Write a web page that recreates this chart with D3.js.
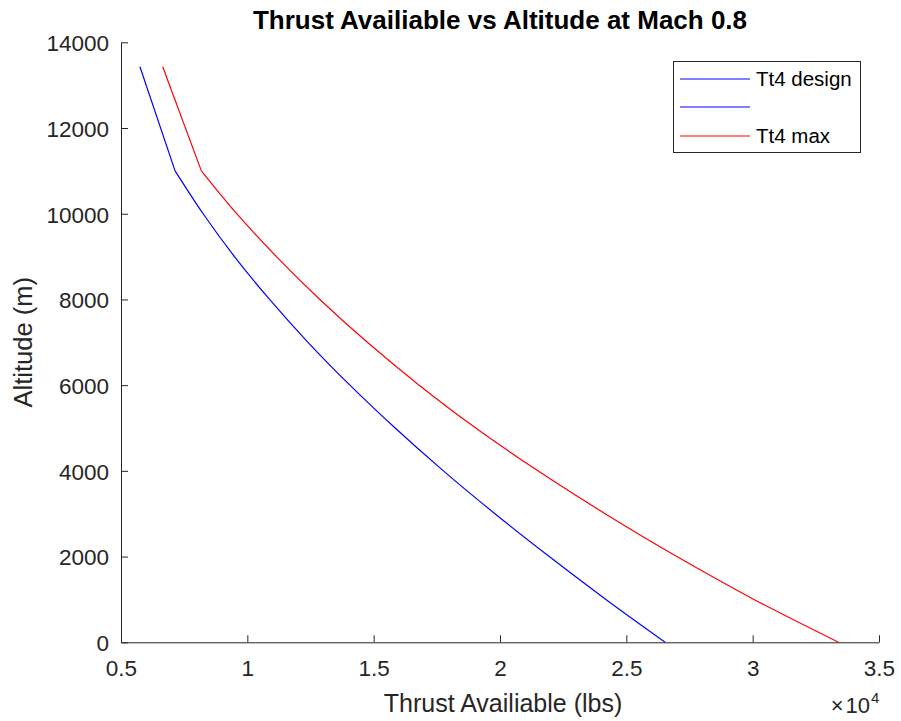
<!DOCTYPE html>
<html>
<head>
<meta charset="utf-8">
<script src="https://cdn.jsdelivr.net/npm/d3@7"></script>
<style>
  html, body { margin: 0; padding: 0; background: #ffffff; }
  svg { display: block; font-family: "Liberation Sans", Arial, Helvetica, sans-serif; }
</style>
</head>
<body>
<svg id="chart" width="901" height="721"></svg>
<script>
// ---- data ----
// troposphere part (0 - 11000 m)
const altitudesLow = [0, 1000, 2000, 3000, 4000, 5000, 6000, 7000, 8000, 9000, 10000, 11000];
const thrustDesignLow = [26540, 24190, 21950, 19800, 17760, 15850, 14060, 12400, 10880, 9490, 8250, 7140];
const thrustMaxLow    = [33400, 30050, 27000, 24160, 21500, 19040, 16800, 14750, 12870, 11150, 9580, 8180];
// stratosphere part (11000 m - top)
const altitudesHigh = [11000, 13430];
const thrustDesignHigh = [7140, 5750];
const thrustMaxHigh    = [8180, 6650];

const legendLabels = ["Tt4 design", "", "Tt4 max"];
const xTickValues = [5000, 10000, 15000, 20000, 25000, 30000, 35000];
const yTickValues = [0, 2000, 4000, 6000, 8000, 10000, 12000, 14000];
const titleText = "Thrust Availiable vs Altitude at Mach 0.8";
const xLabelText = "Thrust Availiable (lbs)";
const yLabelText = "Altitude (m)";

// ---- layout ----
const svg = d3.select("#chart");
const axisColor = "#262626";
const plotLeft = 121, plotRight = 879, plotTop = 42.3, plotBottom = 642.3;

const x = d3.scaleLinear().domain([5000, 35000]).range([plotLeft, plotRight]);
const y = d3.scaleLinear().domain([0, 14000]).range([plotBottom, plotTop]);

// lines
const smoothLine = d3.line().x(d => x(d[0])).y(d => y(d[1])).curve(d3.curveMonotoneY);
const straightLine = d3.line().x(d => x(d[0])).y(d => y(d[1]));
const pts = (alts, vals) => alts.map((a, i) => [vals[i], a]);

const series = [
  { data: pts(altitudesLow, thrustDesignLow), color: "#0000ff", gen: smoothLine },
  { data: pts(altitudesHigh, thrustDesignHigh), color: "#0000ff", gen: straightLine },
  { data: pts(altitudesLow, thrustMaxLow), color: "#ff0000", gen: smoothLine },
  { data: pts(altitudesHigh, thrustMaxHigh), color: "#ff0000", gen: straightLine }
];
series.forEach(s => {
  svg.append("path").datum(s.data).attr("d", s.gen)
    .attr("fill", "none").attr("stroke", s.color).attr("stroke-width", 1.2)
    .attr("stroke-linejoin", "round");
});

// axes
const xAxis = d3.axisBottom(x).tickValues(xTickValues)
  .tickFormat(d => d3.format("~g")(d / 1e4))
  .tickSizeInner(-7).tickSizeOuter(0).tickPadding(18);
const gx = svg.append("g").attr("transform", `translate(0,${plotBottom})`).call(xAxis);

const yAxis = d3.axisLeft(y).tickValues(yTickValues)
  .tickFormat(d3.format("d"))
  .tickSizeInner(-7).tickSizeOuter(0).tickPadding(12);
const gy = svg.append("g").attr("transform", `translate(${plotLeft},0)`).call(yAxis);

[gx, gy].forEach(g => {
  g.select(".domain").attr("stroke", axisColor).attr("stroke-width", 1);
  g.selectAll(".tick line").attr("stroke", axisColor).attr("stroke-width", 1);
  g.selectAll(".tick text").attr("fill", axisColor)
    .style("font-size", "22.5px").style("font-family", "Liberation Sans, Arial, sans-serif");
});
gy.selectAll(".tick text").attr("dy", "0.37em");

// x10^4 multiplier
svg.append("text").attr("x", 870).attr("y", 713)
  .attr("text-anchor", "end").attr("fill", axisColor).style("font-size", "22px")
  .text("\u00d7\u200a10");
svg.append("text").attr("x", 871).attr("y", 703)
  .attr("text-anchor", "start").attr("fill", axisColor).style("font-size", "15px")
  .text("4");

// title
svg.append("text").attr("x", 500).attr("y", 29).attr("text-anchor", "middle")
  .attr("fill", "#000").style("font-size", "26px").style("font-weight", "bold")
  .text(titleText);

// axis labels
svg.append("text").attr("x", 503).attr("y", 712).attr("text-anchor", "middle")
  .attr("fill", axisColor).style("font-size", "25px").text(xLabelText);
svg.append("text").attr("transform", `translate(32,${(plotTop + plotBottom) / 2}) rotate(-90)`)
  .attr("text-anchor", "middle").attr("fill", axisColor).style("font-size", "25.5px")
  .text(yLabelText);

// legend
const legendColors = ["#0000ff", "#0000ff", "#ff0000"];
const legendRows = [79, 107, 136];
const lg = svg.append("g");
lg.append("rect").attr("x", 673.5).attr("y", 61.5).attr("width", 187).attr("height", 91)
  .attr("fill", "#fff").attr("stroke", axisColor).attr("stroke-width", 1);
legendLabels.forEach((lab, i) => {
  lg.append("line").attr("x1", 680).attr("x2", 750)
    .attr("y1", legendRows[i]).attr("y2", legendRows[i])
    .attr("stroke", legendColors[i]).attr("stroke-width", 1.2);
  lg.append("text").attr("x", 756).attr("y", legendRows[i]).attr("dy", "0.35em")
    .attr("fill", "#000").style("font-size", "20.5px").text(lab);
});
</script>
</body>
</html>
